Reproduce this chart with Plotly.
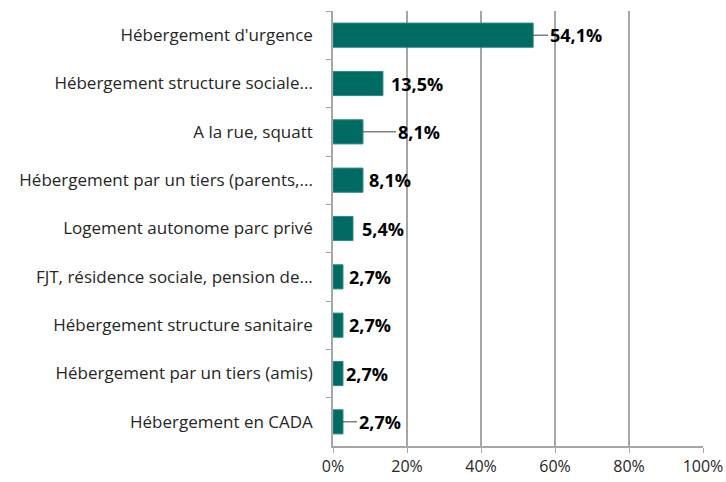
import plotly.graph_objects as go

categories = [
    "Hébergement d'urgence",
    "Hébergement structure sociale...",
    "A la rue, squatt",
    "Hébergement par un tiers (parents,...",
    "Logement autonome parc privé",
    "FJT, résidence sociale, pension de...",
    "Hébergement structure sanitaire",
    "Hébergement par un tiers (amis)",
    "Hébergement en CADA",
]
values = [54.1, 13.5, 8.1, 8.1, 5.4, 2.7, 2.7, 2.7, 2.7]
labels = ["54,1%", "13,5%", "8,1%", "8,1%", "5,4%", "2,7%", "2,7%", "2,7%", "2,7%"]
# label offset in px from bar end, and whether a leader line is drawn
offsets = [15, 6, 33, 4, 7, 4, 4, 1, 14]
leaders = [True, False, True, False, False, False, False, False, True]

teal = "#006B63"
font = "Open Sans"

fig = go.Figure(go.Bar(
    x=[v / 100 for v in values],
    y=categories,
    orientation="h",
    marker=dict(color=teal, line=dict(color="#2E8A80", width=1)),
    width=0.5,
))

for cat, v, lab, off, lead in zip(categories, values, labels, offsets, leaders):
    if lead:
        fig.add_annotation(
            x=v / 100, y=cat, text=f"<b>{lab}</b>",
            showarrow=True, arrowhead=0, arrowwidth=1, arrowcolor="#404040",
            ax=off, ay=0, xanchor="left",
            font=dict(family=font, size=18, color="black"),
        )
    else:
        fig.add_annotation(
            x=v / 100, y=cat, text=f"<b>{lab}</b>",
            showarrow=False, xanchor="left", xshift=off,
            font=dict(family=font, size=18, color="black"),
        )

fig.update_layout(
    width=726, height=482,
    margin=dict(l=333, r=23, t=11, b=36),
    plot_bgcolor="white", paper_bgcolor="white",
    showlegend=False,
    font=dict(family=font, size=17, color="#262626"),
    xaxis=dict(
        range=[0, 1], tickvals=[0, 0.2, 0.4, 0.6, 0.8, 1.0],
        tickformat=".0%", showgrid=True, gridcolor="#A6A6A6", gridwidth=1.5,
        showline=True, linecolor="#A6A6A6", linewidth=1.5,
        ticks="outside", ticklen=5, tickcolor="#A6A6A6", zeroline=False,
        automargin=False, tickfont=dict(size=16),
    ),
    yaxis=dict(
        autorange="reversed", showline=True, linecolor="#A6A6A6", linewidth=1.5,
        ticks="outside", ticklen=5, tickcolor="#A6A6A6", tickson="boundaries",
        ticklabelstandoff=15, automargin=False,
    ),
)

# drop the default page margin so the figure fills the window exactly
fig.write_html(
    "out.html",
    config={"displayModeBar": False},
    post_script="document.body.style.margin='0px';",
)
